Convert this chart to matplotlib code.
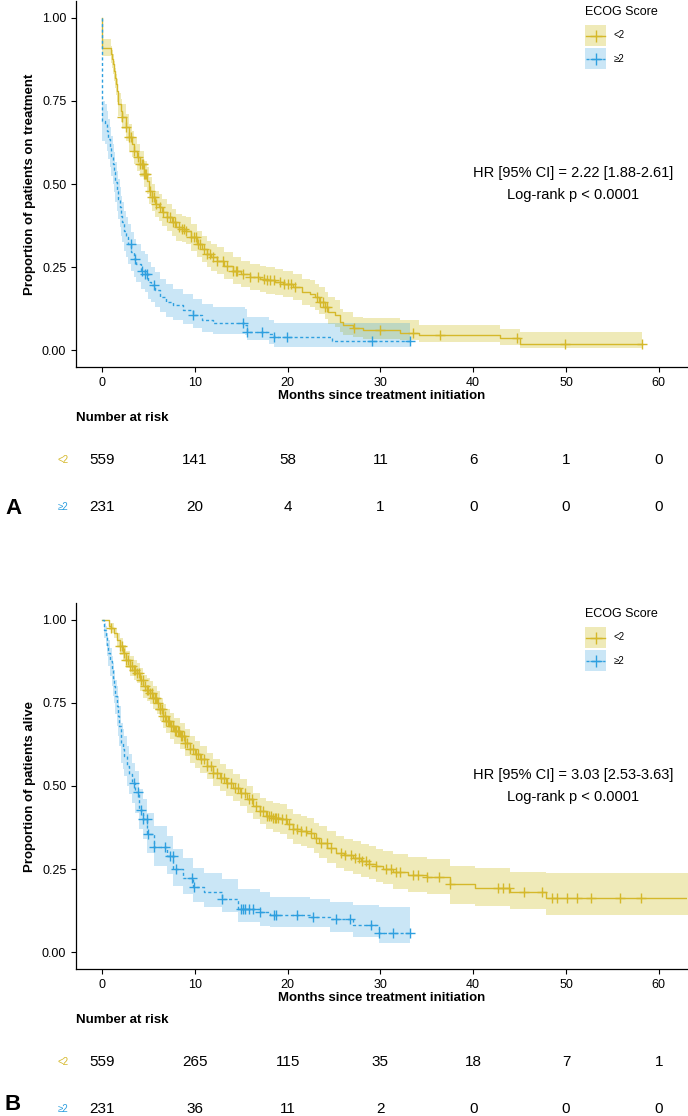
"""Kaplan-Meier curves by ECOG score: time on treatment (A) and overall survival (B)."""
import numpy as np
import matplotlib
matplotlib.use("Agg")
import matplotlib.pyplot as plt
from matplotlib.transforms import blended_transform_factory
from matplotlib.patches import Rectangle
from matplotlib.lines import Line2D

plt.rcParams["font.family"] = ["Liberation Sans", "DejaVu Sans"]

GOLD = "#D5B82A"
GOLD_FILL = "#CABC16"
BLUE = "#2E9FDF"
BLUE_FILL = "#2E9FDF"
groups = ["<2", "\u22652"]
risk_times = [0, 10, 20, 30, 40, 50, 60]

# ---- panel A: on treatment ----
a_lo_t = [0, 0.05, 1.0, 1.1, 1.2, 1.3, 1.4, 1.5, 1.6, 1.68, 1.75, 2.0, 2.2, 2.55, 2.9, 3.2, 3.5,
          3.8, 4.1, 4.5, 4.8, 5.1, 5.35, 5.7, 6.1, 6.5, 7.0, 7.5, 8.0, 8.6, 9.1, 9.6, 10.2, 10.8,
          11.3, 11.8, 12.4, 13.2, 14.1, 15.0, 16.0, 17.0, 17.7, 18.6, 19.5, 20.6, 21.6, 22.4,
          23.0, 23.4, 24.0, 24.4, 25.1, 25.6, 26.0, 27.0, 28.1, 32.1, 34.2, 42.9, 45.0, 58.2]
a_lo_s = [1.0, 0.91, 0.89, 0.875, 0.86, 0.84, 0.82, 0.80, 0.78, 0.76, 0.74, 0.72, 0.70, 0.67,
          0.64, 0.62, 0.60, 0.58, 0.56, 0.53, 0.51, 0.48, 0.46, 0.44, 0.43, 0.415, 0.40, 0.385,
          0.37, 0.365, 0.36, 0.34, 0.32, 0.305, 0.29, 0.28, 0.27, 0.255, 0.24, 0.23, 0.22, 0.215,
          0.21, 0.205, 0.20, 0.19, 0.175, 0.17, 0.16, 0.146, 0.13, 0.116, 0.106, 0.085, 0.076,
          0.066, 0.061, 0.053, 0.046, 0.036, 0.019, 0.019]
a_lo_l = [1.0, 0.885, 0.865, 0.848, 0.83, 0.81, 0.79, 0.768, 0.745, 0.725, 0.705, 0.685, 0.665,
          0.63, 0.60, 0.58, 0.56, 0.54, 0.52, 0.49, 0.47, 0.44, 0.42, 0.40, 0.39, 0.375, 0.36,
          0.345, 0.33, 0.325, 0.32, 0.30, 0.28, 0.265, 0.25, 0.24, 0.23, 0.215, 0.20, 0.19, 0.18,
          0.175, 0.17, 0.165, 0.16, 0.15, 0.135, 0.13, 0.12, 0.11, 0.095, 0.08, 0.07, 0.055,
          0.045, 0.04, 0.035, 0.03, 0.026, 0.015, 0.006, 0.006]
a_lo_u = [1.0, 0.935, 0.915, 0.902, 0.89, 0.87, 0.85, 0.832, 0.815, 0.795, 0.775, 0.755, 0.74,
          0.71, 0.68, 0.66, 0.64, 0.62, 0.60, 0.57, 0.55, 0.52, 0.50, 0.48, 0.47, 0.455, 0.44,
          0.425, 0.41, 0.405, 0.40, 0.38, 0.36, 0.345, 0.33, 0.32, 0.31, 0.295, 0.28, 0.27, 0.26,
          0.255, 0.25, 0.245, 0.24, 0.23, 0.215, 0.21, 0.20, 0.19, 0.175, 0.16, 0.15, 0.125,
          0.115, 0.10, 0.096, 0.09, 0.076, 0.065, 0.056, 0.056]
a_lo_cens = [2.2, 2.55, 2.9, 3.1, 3.5, 3.9, 4.1, 4.3, 4.4, 4.5, 4.6, 4.7, 5.2, 5.4, 5.6, 5.8, 6.2,
             6.6, 7.0, 7.3, 7.6, 7.9, 8.3, 8.6, 8.8, 9.1, 9.6, 9.9, 10.1, 10.3, 10.6, 11.0, 11.3,
             11.6, 12.0, 12.4, 13.0, 13.5, 14.1, 14.4, 14.6, 15.2, 16.0, 16.8, 17.5, 17.8, 18.1,
             18.5, 19.2, 19.6, 20.0, 20.4, 20.8, 23.2, 23.5, 23.8, 24.0, 24.3, 27.2, 30.0, 33.5,
             36.4, 44.7, 49.9, 58.2]

a_hi_t = [0, 0.02, 0.3, 0.5, 0.7, 0.85, 1.0, 1.15, 1.3, 1.45, 1.6, 1.75, 1.9, 2.05, 2.2, 2.4,
          2.6, 2.85, 3.14, 3.4, 3.7, 4.2, 4.6, 4.95, 5.3, 5.7, 6.3, 6.9, 7.7, 8.7, 9.8, 10.8,
          12.0, 15.4, 15.6, 18.0, 18.5, 24.8, 33.2]
a_hi_s = [1.0, 0.69, 0.68, 0.66, 0.635, 0.61, 0.585, 0.56, 0.535, 0.505, 0.48, 0.455, 0.43,
          0.405, 0.385, 0.36, 0.34, 0.32, 0.296, 0.275, 0.26, 0.24, 0.231, 0.206, 0.195, 0.181,
          0.16, 0.146, 0.135, 0.121, 0.106, 0.09, 0.081, 0.076, 0.056, 0.049, 0.041, 0.029, 0.029]
a_hi_l = [1.0, 0.63, 0.62, 0.60, 0.575, 0.55, 0.525, 0.50, 0.475, 0.445, 0.42, 0.395, 0.37,
          0.345, 0.325, 0.30, 0.28, 0.26, 0.24, 0.22, 0.205, 0.185, 0.175, 0.155, 0.145, 0.13,
          0.115, 0.10, 0.09, 0.08, 0.068, 0.055, 0.05, 0.045, 0.03, 0.02, 0.011, 0.011, 0.011]
a_hi_u = [1.0, 0.75, 0.74, 0.72, 0.695, 0.67, 0.645, 0.62, 0.595, 0.565, 0.54, 0.515, 0.49,
          0.465, 0.445, 0.42, 0.40, 0.38, 0.355, 0.335, 0.32, 0.30, 0.29, 0.265, 0.25, 0.235,
          0.215, 0.20, 0.185, 0.17, 0.155, 0.14, 0.13, 0.125, 0.10, 0.09, 0.083, 0.082, 0.082]
a_hi_cens = [3.1, 3.6, 4.3, 4.6, 4.8, 5.6, 9.8, 15.2, 15.6, 17.2, 18.5, 19.9, 29.1, 33.2]

a_risk_lo = [559, 141, 58, 11, 6, 1, 0]
a_risk_hi = [231, 20, 4, 1, 0, 0, 0]

# ---- panel B: alive ----
b_lo_t = [0, 0.8, 1.0, 1.3, 1.58, 1.9, 2.3, 2.6, 3.0, 3.4, 3.73, 4.1, 4.45, 4.8, 5.2, 5.5, 5.9,
          6.2, 6.6, 6.9, 7.3, 7.8, 8.4, 8.9, 9.5, 10.0, 10.6, 11.3, 12.0, 12.7, 13.4, 14.1, 14.9,
          15.6, 16.3, 17.0, 17.7, 18.4, 19.2, 19.9, 20.6, 21.4, 22.1, 22.8, 23.4, 24.3, 25.2,
          26.1, 27.0, 27.9, 28.8, 29.5, 30.3, 31.4, 33.0, 35.0, 37.5, 40.2, 44.0, 47.8, 64.0]
b_lo_s = [1.0, 0.98, 0.975, 0.96, 0.94, 0.92, 0.90, 0.88, 0.86, 0.85, 0.84, 0.82, 0.80, 0.79,
          0.78, 0.765, 0.75, 0.73, 0.71, 0.695, 0.68, 0.665, 0.65, 0.63, 0.61, 0.595, 0.58, 0.56,
          0.54, 0.525, 0.51, 0.495, 0.48, 0.46, 0.44, 0.425, 0.41, 0.405, 0.40, 0.385, 0.37,
          0.365, 0.36, 0.345, 0.33, 0.315, 0.30, 0.292, 0.284, 0.275, 0.267, 0.26, 0.252, 0.241,
          0.233, 0.226, 0.204, 0.194, 0.182, 0.162, 0.162]
b_lo_l = [1.0, 0.97, 0.96, 0.945, 0.92, 0.895, 0.875, 0.855, 0.83, 0.82, 0.81, 0.785, 0.765,
          0.755, 0.745, 0.73, 0.715, 0.695, 0.675, 0.66, 0.64, 0.625, 0.61, 0.59, 0.57, 0.555,
          0.54, 0.52, 0.50, 0.485, 0.47, 0.455, 0.44, 0.42, 0.40, 0.385, 0.37, 0.362, 0.355,
          0.34, 0.325, 0.32, 0.315, 0.30, 0.285, 0.27, 0.255, 0.246, 0.235, 0.226, 0.22, 0.212,
          0.205, 0.19, 0.182, 0.175, 0.146, 0.14, 0.131, 0.111, 0.111]
b_lo_u = [1.0, 0.99, 0.99, 0.975, 0.96, 0.945, 0.925, 0.905, 0.89, 0.88, 0.87, 0.855, 0.835,
          0.825, 0.815, 0.80, 0.785, 0.765, 0.745, 0.73, 0.72, 0.705, 0.69, 0.67, 0.65, 0.635,
          0.62, 0.60, 0.58, 0.565, 0.55, 0.535, 0.52, 0.50, 0.48, 0.465, 0.455, 0.45, 0.445,
          0.43, 0.415, 0.41, 0.405, 0.39, 0.38, 0.365, 0.35, 0.342, 0.335, 0.326, 0.32, 0.312,
          0.305, 0.295, 0.287, 0.28, 0.261, 0.255, 0.241, 0.238, 0.238]
b_lo_cens = [1.0, 1.9, 2.2, 2.4, 2.6, 2.8, 3.0, 3.2, 3.4, 3.6, 3.8, 4.0, 4.2, 4.4, 4.6, 4.8, 5.0,
             5.2, 5.4, 5.5, 5.7, 5.8, 6.0, 6.2, 6.3, 6.5, 6.6, 6.8, 6.9, 7.1, 7.2, 7.4, 7.6, 7.7,
             7.9, 8.0, 8.2, 8.3, 8.5, 8.6, 8.8, 8.9, 9.2, 9.5, 9.8, 10.1, 10.4, 10.7, 11.0, 11.3,
             11.7, 12.0, 12.4, 12.8, 13.1, 13.5, 13.9, 14.3, 14.7, 15.0, 15.4, 15.8, 16.2, 16.6,
             17.0, 17.4, 17.8, 18.0, 18.2, 18.4, 18.6, 18.8, 19.0, 19.4, 19.8, 20.2, 20.6, 21.0,
             21.4, 22.0, 22.5, 23.1, 23.6, 24.2, 24.7, 25.8, 26.2, 26.8, 27.3, 27.7, 28.0, 28.4,
             28.8, 29.5, 30.6, 31.1, 31.7, 32.1, 33.5, 34.1, 35.0, 36.3, 37.5, 42.7, 43.2, 43.9,
             45.5, 47.4, 48.5, 49.0, 50.1, 51.2, 52.7, 55.8, 58.1]

b_hi_t = [0, 0.25, 0.4, 0.55, 0.7, 0.85, 1.04, 1.2, 1.3, 1.45, 1.58, 1.7, 1.85, 2.0, 2.1, 2.25,
          2.4, 2.65, 2.9, 3.2, 3.55, 4.0, 4.4, 4.9, 5.6, 6.97, 7.7, 8.7, 9.84, 11.0, 12.9, 14.7,
          17.0, 18.1, 22.4, 24.6, 27.1, 29.8, 33.2]
b_hi_s = [1.0, 0.97, 0.95, 0.925, 0.90, 0.875, 0.85, 0.825, 0.80, 0.77, 0.74, 0.71, 0.68, 0.655,
          0.63, 0.61, 0.59, 0.56, 0.535, 0.51, 0.482, 0.429, 0.40, 0.357, 0.317, 0.289, 0.251,
          0.225, 0.196, 0.18, 0.161, 0.131, 0.121, 0.111, 0.106, 0.10, 0.081, 0.057, 0.057]
b_hi_l = [1.0, 0.945, 0.92, 0.89, 0.86, 0.83, 0.80, 0.77, 0.75, 0.715, 0.68, 0.65, 0.62, 0.595,
          0.57, 0.55, 0.53, 0.50, 0.475, 0.45, 0.42, 0.37, 0.34, 0.30, 0.26, 0.235, 0.20, 0.175,
          0.15, 0.135, 0.12, 0.09, 0.08, 0.075, 0.075, 0.06, 0.045, 0.027, 0.027]
b_hi_u = [1.0, 0.99, 0.98, 0.96, 0.94, 0.915, 0.89, 0.87, 0.85, 0.82, 0.80, 0.77, 0.74, 0.715,
          0.69, 0.67, 0.65, 0.62, 0.595, 0.57, 0.545, 0.49, 0.46, 0.42, 0.38, 0.35, 0.31, 0.285,
          0.255, 0.24, 0.22, 0.19, 0.18, 0.166, 0.161, 0.151, 0.141, 0.136, 0.136]
b_hi_cens = [3.5, 3.9, 4.2, 4.4, 4.8, 5.0, 5.6, 6.8, 7.3, 7.6, 8.0, 9.7, 9.9, 12.9, 15.0, 15.2,
             15.4, 15.8, 16.3, 17.0, 18.5, 18.8, 21.0, 22.7, 25.2, 26.7, 29.0, 29.9, 31.4, 33.2]

b_risk_lo = [559, 265, 115, 35, 18, 7, 1]
b_risk_hi = [231, 36, 11, 2, 0, 0, 0]

W, H = 688, 1116
DASH = (0, (2.2, 1.8))


def fy(py):
    return 1 - py / H


def draw_km(ax, t, s, lo, hi, cens, color, fill, ls):
    t = np.asarray(t); s = np.asarray(s)
    ax.fill_between(t, lo, hi, step="post", color=fill, alpha=0.3 if fill == GOLD_FILL else 0.25, lw=0)
    ax.step(t, s, where="post", color=color, lw=1.0, ls=ls)
    idx = np.searchsorted(t, cens, side="right") - 1
    ax.plot(cens, s[idx], ls="none", marker="+", ms=6.5, mew=1.0, color=color)


def panel(fig, top, ylabel, curves, risks, hr_text, letter, letter_y):
    # top = pixel row of the axes top edge
    ax = fig.add_axes([76 / W, fy(top + 366), 611 / W, 366 / H])
    styles = [(GOLD, GOLD_FILL, "-"), (BLUE, BLUE_FILL, DASH)]
    for (t, s, lo, hi, cens), (color, fill, ls) in zip(curves, styles):
        draw_km(ax, t, s, lo, hi, cens, color, fill, ls)
    ax.set_xlim(-2.8, 63.04)
    ax.set_ylim(-0.05, 1.05)
    ax.set_xticks(risk_times)
    ax.set_yticks([0, 0.25, 0.5, 0.75, 1.0])
    ax.set_yticklabels(["0.00", "0.25", "0.50", "0.75", "1.00"])
    for side in ["top", "right"]:
        ax.spines[side].set_visible(False)
    for side in ["left", "bottom"]:
        ax.spines[side].set_linewidth(0.9)
    ax.tick_params(labelsize=9, length=3.5, width=0.8, colors="black")
    ax.set_xlabel("Months since treatment initiation", fontsize=9.5, fontweight="bold", labelpad=1)
    ax.set_ylabel(ylabel, fontsize=9.5, fontweight="bold", labelpad=4)

    # HR annotation
    fig.text(573 / W, fy(top + 172), hr_text[0], ha="center", va="center", fontsize=10.5)
    fig.text(573 / W, fy(top + 194), hr_text[1], ha="center", va="center", fontsize=10.5)

    # legend drawn by hand
    fig.text(585 / W, fy(top + 11), "ECOG Score", ha="left", va="center", fontsize=9)
    for i, (g, (color, fill, ls)) in enumerate(zip(groups, styles)):
        y0 = top + 24 + i * 23
        fig.add_artist(Rectangle((585 / W, fy(y0 + 21)), 21 / W, 21 / H, transform=fig.transFigure,
                                 facecolor=fill, alpha=0.3 if fill == GOLD_FILL else 0.25, lw=0))
        fig.add_artist(Line2D([586 / W, 605 / W], [fy(y0 + 10.5)] * 2, transform=fig.transFigure,
                              color=color, lw=1.0, ls=ls))
        fig.add_artist(Line2D([595.5 / W], [fy(y0 + 10.5)], transform=fig.transFigure, color=color,
                              marker="+", ms=8, mew=1.0))
        fig.text(614 / W, fy(y0 + 10.5), g, ha="left", va="center", fontsize=7)

    # number at risk table
    tr = blended_transform_factory(ax.transData, fig.transFigure)
    fig.text(76 / W, fy(top + 417), "Number at risk", ha="left", va="center",
             fontsize=9.5, fontweight="bold")
    for row, (g, (color, _, _), counts) in enumerate(zip(groups, styles, risks)):
        py = top + 459 + row * 47
        fig.text(63 / W, fy(py), g, ha="center", va="center", fontsize=7, color=color)
        for x, n in zip(risk_times, counts):
            ax.text(x, fy(py), str(n), transform=tr, ha="center", va="center", fontsize=11,
                    clip_on=False)
    fig.text(13 / W, fy(letter_y), letter, ha="center", va="bottom", fontsize=16,
             fontweight="bold")
    return ax


fig = plt.figure(figsize=(W / 100, H / 100), dpi=100)
panel(fig, 1, "Proportion of patients on treatment",
      [(a_lo_t, a_lo_s, a_lo_l, a_lo_u, a_lo_cens), (a_hi_t, a_hi_s, a_hi_l, a_hi_u, a_hi_cens)],
      [a_risk_lo, a_risk_hi],
      ["HR [95% CI] = 2.22 [1.88-2.61]", "Log-rank p < 0.0001"], "A", 519)
panel(fig, 603, "Proportion of patients alive",
      [(b_lo_t, b_lo_s, b_lo_l, b_lo_u, b_lo_cens), (b_hi_t, b_hi_s, b_hi_l, b_hi_u, b_hi_cens)],
      [b_risk_lo, b_risk_hi],
      ["HR [95% CI] = 3.03 [2.53-3.63]", "Log-rank p < 0.0001"], "B", 1115)
fig.savefig("out.png", dpi=100)
